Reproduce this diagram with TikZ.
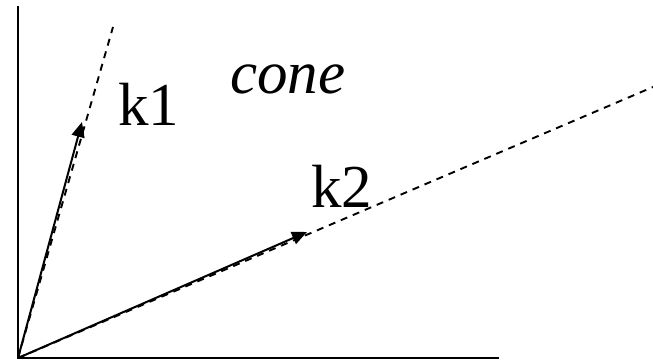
\documentclass[tikz,border=0pt]{standalone}
\usepackage{fontspec}
\setmainfont{Liberation Serif}
\usetikzlibrary{arrows.meta}
\begin{document}
\begin{tikzpicture}[x=1pt,y=-1pt,
  axisline/.style={line width=2pt},
  coneline/.style={line width=1.9pt,dash pattern=on 7pt off 6pt},
  vecline/.style={line width=2pt,-{Triangle[length=15pt,width=13pt]}},
  lbl/.style={anchor=base west,inner sep=0pt,font=\fontsize{61}{72}\selectfont}]
\useasboundingbox (0,0) rectangle (653,360);
\coordinate (O) at (18,358);
\coordinate (Ytop) at (18,6);
\coordinate (Xend) at (499,358);
\coordinate (D1) at (113,27);
\coordinate (D2) at (653,87);
\coordinate (K1) at (82,122);
\coordinate (K2) at (307,232);
\draw[axisline] (Ytop) -- (O) -- (Xend);
\draw[coneline] (O) -- (D1);
\draw[coneline] (O) -- (D2);
\draw[vecline] (O) -- (K1);
\draw[vecline] (O) -- (K2);
\node[lbl] (k1) at (118,125) {k1};
\node[lbl] (cone) at (230,93) {\itshape cone};
\node[lbl] (k2) at (311,207) {k2};
\end{tikzpicture}
\end{document}
